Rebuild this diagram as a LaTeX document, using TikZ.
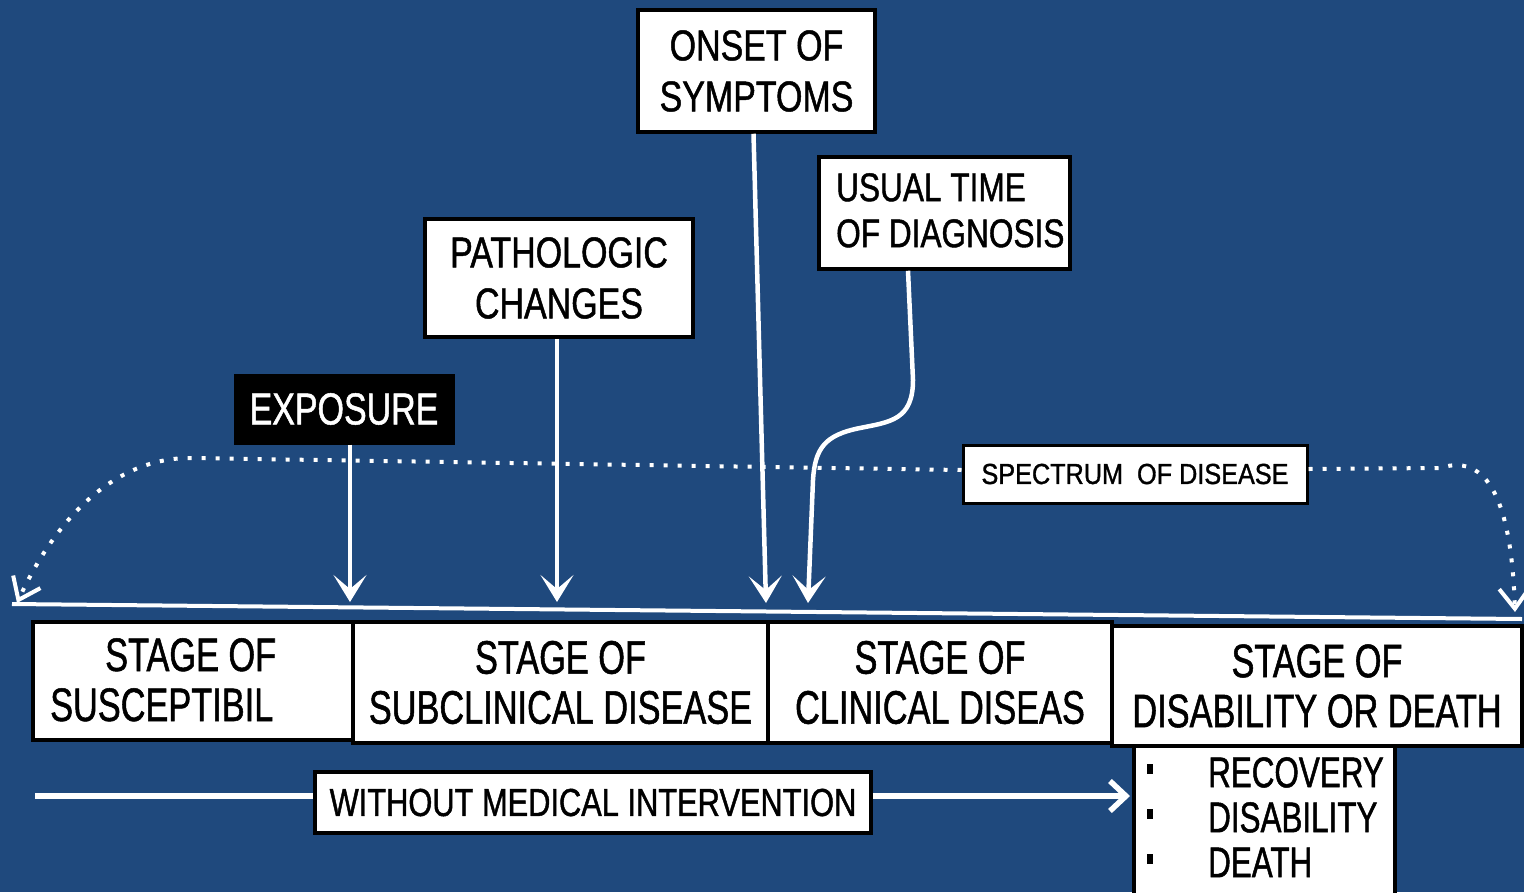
\documentclass[tikz,border=0pt]{standalone}
\usepackage{fontspec}
\setmainfont{Liberation Sans}
\newfontfamily\fA{Liberation Sans}[FakeStretch=0.73,FakeBold=1.1]
\newfontfamily\fB{Liberation Sans}[FakeStretch=0.79,FakeBold=1.1]
\newfontfamily\fC{Liberation Sans}[FakeStretch=0.87,FakeBold=1.1]
\newfontfamily\fD{Liberation Sans}[FakeStretch=0.76,FakeBold=1.1]
\usetikzlibrary{arrows.meta,calc}
\definecolor{bg}{RGB}{31,73,125}
\begin{document}
\begin{tikzpicture}[x=1pt,y=-1pt,
  box/.style={draw=black, line width=3.5pt, fill=white, inner sep=0pt, text=black},
  stagefont/.style={font={\fA\fontsize{47}{50}\selectfont}},
  topfont/.style={font={\fB\fontsize{43}{51}\selectfont}},
  label/.style={anchor=north west, inner sep=0pt, align=left, text=black},
  wl/.style={white, line width=4.5pt},
  tip/.style={-{Stealth[length=27pt,width=33pt,inset=14pt]}},
  dots/.style={white, line width=4pt, dash pattern=on 4pt off 10pt},
]
\fill[bg] (0,0) rectangle (1524,892);
\useasboundingbox (0,0) rectangle (1524,892);

% timeline
\coordinate (tl) at (12,604);
\coordinate (tr) at (1522,619);
\draw[white, line width=4pt] (tl) -- (tr);
\coordinate (e1) at (350,602);
\coordinate (e2) at (557,602);
\coordinate (e3) at (766,603);
\coordinate (e4) at (808,603);
\coordinate (dl) at (17,603);
\coordinate (dr) at (1515,612);

% top boxes
\node[box, topfont, align=center, minimum width=237, minimum height=122] (onset) at (756.5,71) {ONSET OF\\SYMPTOMS};
\node[box, minimum width=251, minimum height=112] (diag) at (944.5,213) {};
\node[label, font={\fB\fontsize{40}{46}\selectfont}] (diagtext) at (836,173) {USUAL TIME\\OF DIAGNOSIS};
\node[box, topfont, align=center, minimum width=268, minimum height=118] (patho) at (559,278) {PATHOLOGIC\\CHANGES};
\node[draw=black, fill=black, text=white, line width=3pt, inner sep=0pt, minimum width=218, minimum height=68, font={\fD\fontsize{44.7}{50}\selectfont}] (expo) at (344,409) {EXPOSURE};
\node[box, line width=3pt, minimum width=344, minimum height=58, font={\fC\fontsize{29}{30}\selectfont}] (spec) at (1135,474) {SPECTRUM\ \ OF DISEASE};

% arrows down to the timeline
\draw[wl,tip] (expo.south -| e1) -- (e1);
\draw[wl,tip] (patho.south -| e2) -- (e2);
\draw[wl,tip] ($(onset.south)+(-3,0)$) -- (e3);
\draw[wl,tip] ($(diag.south)+(-36.5,0)$) -- (913,380) .. controls (913,420) and (890,422) .. (860,428) .. controls (825,435) and (815,448) .. (813,480) -- (e4);

% spectrum dotted curves
\draw[dots, -{Straight Barb[length=20pt,width=30pt]}] ($(spec.west)+(0,-4)$) -- (190,458) .. controls (120,458) and (60,510) .. (dl);
\draw[dots, -{Straight Barb[length=20pt,width=30pt]}] ($(spec.east)+(0,-5)$) -- (1440,468) .. controls (1495,450) and (1512,520) .. (dr);

% stage boxes
\node[box, minimum width=320, minimum height=118] (s1) at (193,681) {};
\node[label, stagefont] (s1text) at (50,638) {\hspace*{55pt}STAGE OF\\SUSCEPTIBIL};
\node[box, stagefont, align=center, minimum width=415, minimum height=121] (s2) at (560.5,682.5) {STAGE OF\\SUBCLINICAL DISEASE};
\node[box, stagefont, align=center, minimum width=344, minimum height=121] (s3) at (940,682.5) {STAGE OF\\CLINICAL DISEAS};
\node[box, stagefont, align=center, minimum width=410, minimum height=120] (s4) at (1317,686) {STAGE OF\\DISABILITY OR DEATH};

% outcomes
\node[box, anchor=north west, minimum width=261, minimum height=170] (outcome) at (1132,744) {};
\node[label, font={\fA\fontsize{43}{45}\selectfont}] (outtext) at (1147,757) {\rule[13pt]{6pt}{10pt}\hspace{55pt}RECOVERY\\\rule[13pt]{6pt}{10pt}\hspace{55pt}DISABILITY\\\rule[13pt]{6pt}{10pt}\hspace{55pt}DEATH};

% without medical intervention
\node[box, minimum width=556, minimum height=61, font={\fB\fontsize{39}{42}\selectfont}] (without) at (593,802.5) {WITHOUT MEDICAL INTERVENTION};
\coordinate (ws) at (35,796);
\coordinate (we) at (1130,796);
\draw[white, line width=5.5pt] (ws) -- (ws -| without.west);
\draw[white, line width=5.5pt, -{Straight Barb[length=16pt,width=30pt]}] (we -| without.east) -- (we);
\end{tikzpicture}
\end{document}
